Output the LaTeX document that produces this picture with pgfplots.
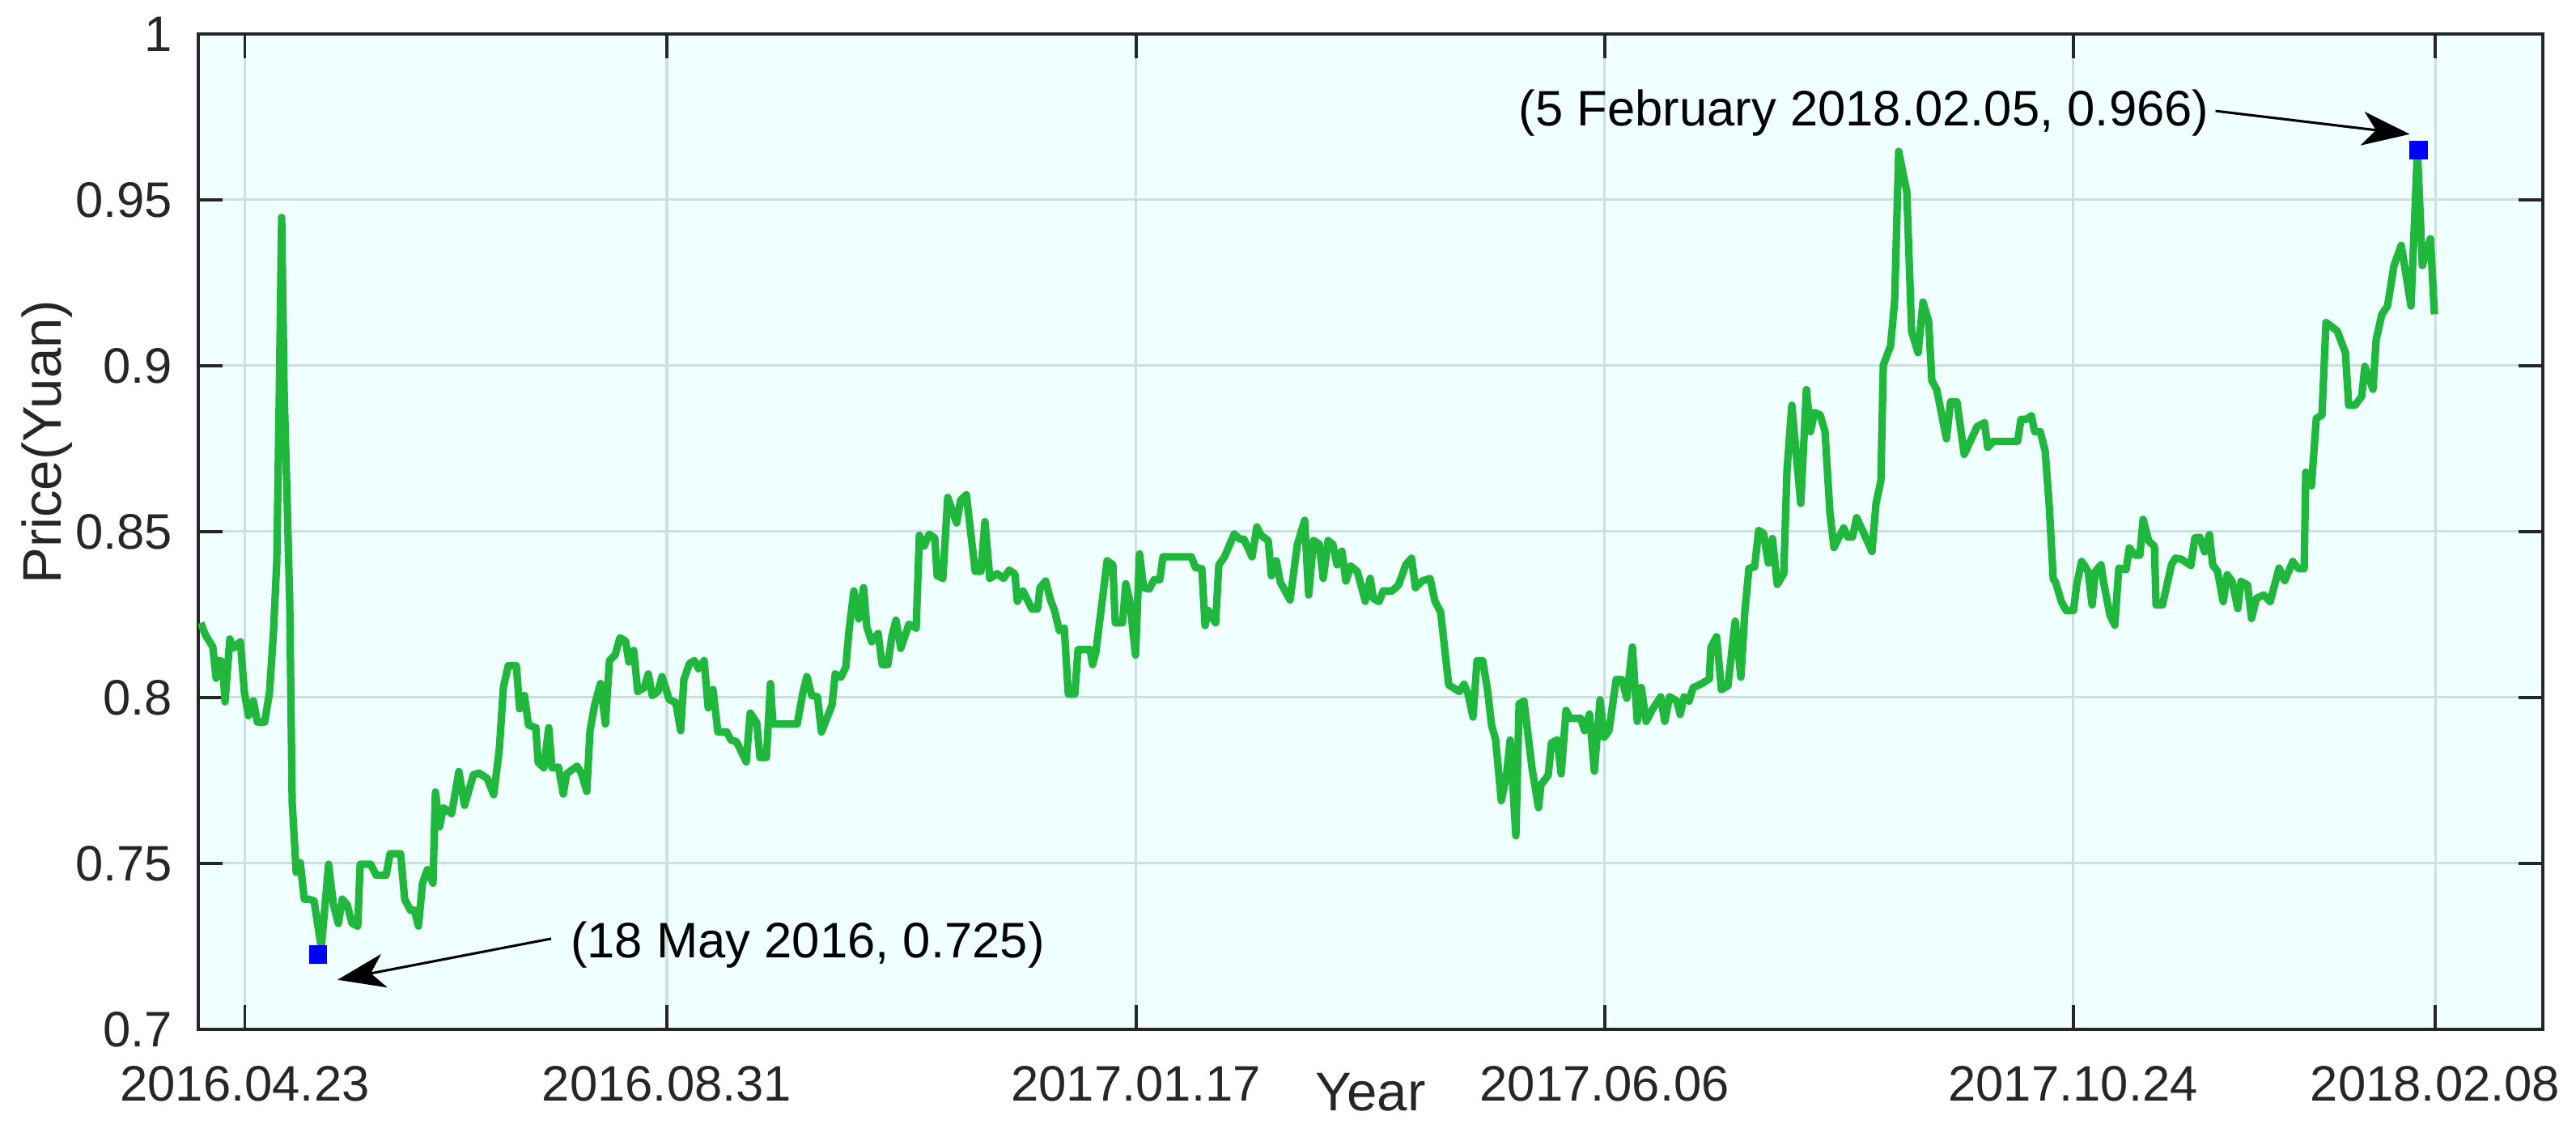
\documentclass[border=0pt]{standalone}
\usepackage{fontspec}
\setmainfont{Liberation Sans}
\usepackage{pgfplots}
\pgfplotsset{compat=1.18}
\usepackage{pgfplotstable}
\usetikzlibrary{arrows.meta}
\definecolor{bgcyan}{RGB}{240,255,255}
\definecolor{linegreen}{RGB}{32,184,60}
\definecolor{gridc}{RGB}{208,222,222}
\definecolor{axc}{RGB}{38,38,38}

% x = horizontal position on the date axis (ticks at the labelled dates), y = price
\pgfplotstableread{
px price
248 0.8225
254 0.8188
263 0.8152
267 0.8058
271 0.8112
275 0.8107
278 0.7987
284 0.8176
288 0.8149
297 0.8168
302 0.8015
307 0.7945
313 0.7990
318 0.7926
327 0.7926
333 0.8015
338 0.8201
342 0.8411
345 0.8896
348 0.9447
351 0.8929
355 0.8573
358 0.8282
361 0.7683
366 0.7473
371 0.7502
376 0.7392
382 0.7392
388 0.7387
397 0.7246
406 0.7497
412 0.7375
418 0.7319
423 0.7392
429 0.7375
435 0.7319
442 0.7311
445 0.7497
458 0.7497
465 0.7464
477 0.7464
482 0.7529
495 0.7529
500 0.7392
507 0.7359
512 0.7359
517 0.7311
522 0.7440
528 0.7481
535 0.7440
538 0.7715
543 0.7610
548 0.7667
558 0.7650
567 0.7777
574 0.7675
585 0.7767
592 0.7772
602 0.7756
610 0.7707
617 0.7845
622 0.8031
628 0.8096
638 0.8096
642 0.7966
648 0.8006
653 0.7917
662 0.7909
665 0.7804
672 0.7788
678 0.7909
682 0.7788
690 0.7790
696 0.7709
700 0.7770
713 0.7793
718 0.7774
725 0.7717
729 0.7900
735 0.7981
742 0.8042
748 0.7920
753 0.8111
760 0.8128
766 0.8180
773 0.8170
777 0.8107
783 0.8142
788 0.8018
796 0.8030
801 0.8071
806 0.8006
813 0.8018
818 0.8063
827 0.7993
835 0.7985
841 0.7900
845 0.8054
852 0.8103
858 0.8111
863 0.8087
870 0.8111
875 0.7969
881 0.8024
887 0.7896
898 0.7896
903 0.7872
910 0.7867
922 0.7806
927 0.7953
935 0.7924
939 0.7819
947 0.7819
952 0.8042
955 0.7920
985 0.7920
992 0.8014
997 0.8063
1003 0.8006
1010 0.8002
1015 0.7896
1028 0.7977
1032 0.8071
1039 0.8061
1045 0.8091
1049 0.8201
1055 0.8321
1061 0.8237
1067 0.8331
1071 0.8213
1077 0.8168
1085 0.8193
1090 0.8099
1097 0.8099
1102 0.8184
1107 0.8233
1113 0.8148
1123 0.8221
1132 0.8209
1136 0.8489
1142 0.8457
1148 0.8492
1155 0.8481
1158 0.8367
1165 0.8359
1171 0.8603
1182 0.8526
1187 0.8595
1194 0.8611
1205 0.8380
1212 0.8380
1217 0.8530
1223 0.8359
1232 0.8373
1240 0.8359
1247 0.8384
1254 0.8372
1257 0.8290
1264 0.8321
1275 0.8267
1282 0.8267
1285 0.8331
1292 0.8351
1298 0.8294
1303 0.8262
1309 0.8201
1315 0.8209
1320 0.8010
1328 0.8010
1332 0.8144
1347 0.8144
1350 0.8099
1354 0.8136
1368 0.8412
1375 0.8400
1378 0.8225
1387 0.8225
1391 0.8343
1396 0.8290
1403 0.8128
1408 0.8433
1413 0.8331
1420 0.8327
1426 0.8355
1433 0.8355
1437 0.8424
1472 0.8424
1477 0.8392
1485 0.8388
1489 0.8217
1493 0.8262
1502 0.8225
1506 0.8400
1513 0.8424
1525 0.8493
1532 0.8477
1537 0.8477
1547 0.8424
1553 0.8514
1558 0.8489
1567 0.8473
1571 0.8367
1577 0.8412
1582 0.8347
1594 0.8294
1603 0.8461
1612 0.8534
1617 0.8309
1623 0.8473
1630 0.8463
1635 0.8359
1641 0.8473
1647 0.8461
1652 0.8400
1658 0.8441
1663 0.8351
1669 0.8396
1677 0.8380
1687 0.8290
1693 0.8359
1697 0.8298
1704 0.8289
1709 0.8321
1720 0.8321
1728 0.8339
1737 0.8400
1744 0.8420
1749 0.8331
1757 0.8351
1767 0.8359
1773 0.8290
1780 0.8258
1790 0.8038
1803 0.8018
1809 0.8040
1814 0.8010
1820 0.7941
1825 0.8111
1832 0.8111
1838 0.8022
1843 0.7916
1848 0.7872
1855 0.7689
1861 0.7758
1866 0.7872
1873 0.7583
1877 0.7981
1883 0.7989
1893 0.7786
1901 0.7668
1904 0.7737
1913 0.7766
1917 0.7863
1924 0.7872
1929 0.7770
1935 0.7961
1940 0.7937
1953 0.7937
1958 0.7900
1964 0.7950
1970 0.7778
1977 0.7993
1982 0.7880
1988 0.7900
1997 0.8054
2004 0.8054
2010 0.7998
2017 0.8152
2023 0.7928
2028 0.8030
2034 0.7928
2042 0.7965
2052 0.8002
2057 0.7928
2063 0.8002
2072 0.7989
2076 0.7949
2081 0.8002
2087 0.7989
2092 0.8030
2097 0.8035
2105 0.8045
2112 0.8056
2114 0.8151
2121 0.8183
2127 0.8024
2135 0.8035
2144 0.8230
2151 0.8061
2156 0.8262
2161 0.8389
2168 0.8394
2173 0.8503
2179 0.8495
2185 0.8405
2190 0.8479
2196 0.8341
2204 0.8373
2208 0.8685
2214 0.8881
2220 0.8717
2225 0.8585
2232 0.8928
2237 0.8801
2242 0.8859
2249 0.8852
2255 0.8801
2261 0.8558
2266 0.8452
2278 0.8511
2283 0.8484
2289 0.8484
2294 0.8542
2302 0.8500
2313 0.8440
2318 0.8585
2324 0.8653
2327 0.9002
2336 0.9060
2341 0.9195
2346 0.9646
2356 0.9524
2362 0.9103
2370 0.9039
2376 0.9192
2383 0.9134
2387 0.8955
2393 0.8928
2399 0.8854
2405 0.8780
2410 0.8891
2418 0.8891
2427 0.8733
2443 0.8817
2452 0.8828
2456 0.8754
2463 0.8772
2493 0.8772
2497 0.8838
2503 0.8838
2510 0.8849
2514 0.8801
2521 0.8801
2527 0.8743
2532 0.8579
2537 0.8357
2540 0.8347
2547 0.8289
2553 0.8262
2562 0.8262
2566 0.8341
2572 0.8410
2575 0.8400
2580 0.8380
2585 0.8279
2589 0.8380
2596 0.8400
2599 0.8350
2607 0.8248
2613 0.8218
2618 0.8390
2627 0.8385
2631 0.8451
2638 0.8429
2644 0.8429
2648 0.8537
2655 0.8471
2662 0.8456
2664 0.8279
2672 0.8279
2683 0.8400
2688 0.8420
2695 0.8417
2707 0.8398
2712 0.8481
2718 0.8483
2724 0.8439
2730 0.8491
2734 0.8400
2740 0.8380
2747 0.8289
2752 0.8370
2758 0.8350
2765 0.8268
2769 0.8350
2777 0.8339
2782 0.8238
2788 0.8299
2797 0.8309
2805 0.8289
2816 0.8390
2823 0.8352
2833 0.8410
2840 0.8388
2847 0.8388
2849 0.8679
2856 0.8638
2862 0.8841
2869 0.8851
2874 0.9130
2880 0.9120
2888 0.9104
2898 0.9039
2902 0.8881
2910 0.8881
2918 0.8907
2922 0.8998
2932 0.8929
2936 0.9079
2943 0.9155
2950 0.9180
2958 0.9302
2967 0.9363
2979 0.9180
2987 0.9650
2993 0.9302
3003 0.9383
3008 0.9155
}\pricedata

\begin{document}
\begin{tikzpicture}
\path[use as bounding box] (-43.75pt,-23.75pt) rectangle (524.6pt,227.1pt);
\begin{axis}[
  at={(0,0)}, anchor=south west,
  scale only axis, width=517.3pt, height=219.6pt,
  xmin=245, xmax=3142, ymin=0.7, ymax=1,
  axis background/.style={fill=bgcyan},
  axis line style={axc, line width=0.7pt},
  xtick={302.5,824,1403.6,1982.6,2561.5,3009},
  xticklabels={2016.04.23,2016.08.31,2017.01.17,2017.06.06,2017.10.24,2018.02.08},
  ytick={0.7,0.75,0.8,0.85,0.9,0.95,1},
  yticklabels={0.7,0.75,0.8,0.85,0.9,0.95,1},
  tick align=inside, xtick pos=both, ytick pos=both,
  major tick length=5.4pt,
  tick style={axc, line width=0.7pt},
  grid=major, grid style={gridc, line width=0.55pt},
  ticklabel style={font=\fontsize{11}{12}\selectfont, text=axc},
  xticklabel style={inner sep=0pt, anchor=north, yshift=-8pt},
  yticklabel style={inner sep=0pt, anchor=east, xshift=-5.5pt},
  xlabel={Year}, ylabel={Price(Yuan)},
  label style={font=\fontsize{12}{14}\selectfont, text=axc},
  xlabel style={at={(axis description cs:0.5,-0.0437)}, anchor=north, inner sep=0pt},
  ylabel style={at={(axis description cs:-0.0532,0.59)}, rotate=0, anchor=south, inner sep=0pt},
]
\addplot[linegreen, line width=1.65pt, line join=round, mark=none] table[x=px, y=price] {\pricedata};
\addplot[only marks, mark=square*, mark size=1.8pt, blue] coordinates {(393,0.7225) (2988.5,0.965)};

\node[anchor=west, inner sep=0pt, font=\fontsize{11}{13}\selectfont] at (axis cs:704,0.7254) {(18 May 2016, 0.725)};
\draw[-{Stealth[length=10.5pt, width=7.5pt, inset=3pt]}, line width=0.55pt] (axis cs:681,0.7273) -- (axis cs:417,0.7149);

\node[anchor=west, inner sep=0pt, font=\fontsize{11}{13}\selectfont] at (axis cs:1875.5,0.9763) {(5 February 2018.02.05, 0.966)};
\draw[-{Stealth[length=10.5pt, width=7.5pt, inset=3pt]}, line width=0.55pt] (axis cs:2737.5,0.9768) -- (axis cs:2977.5,0.9698);
\end{axis}
\end{tikzpicture}
\end{document}
